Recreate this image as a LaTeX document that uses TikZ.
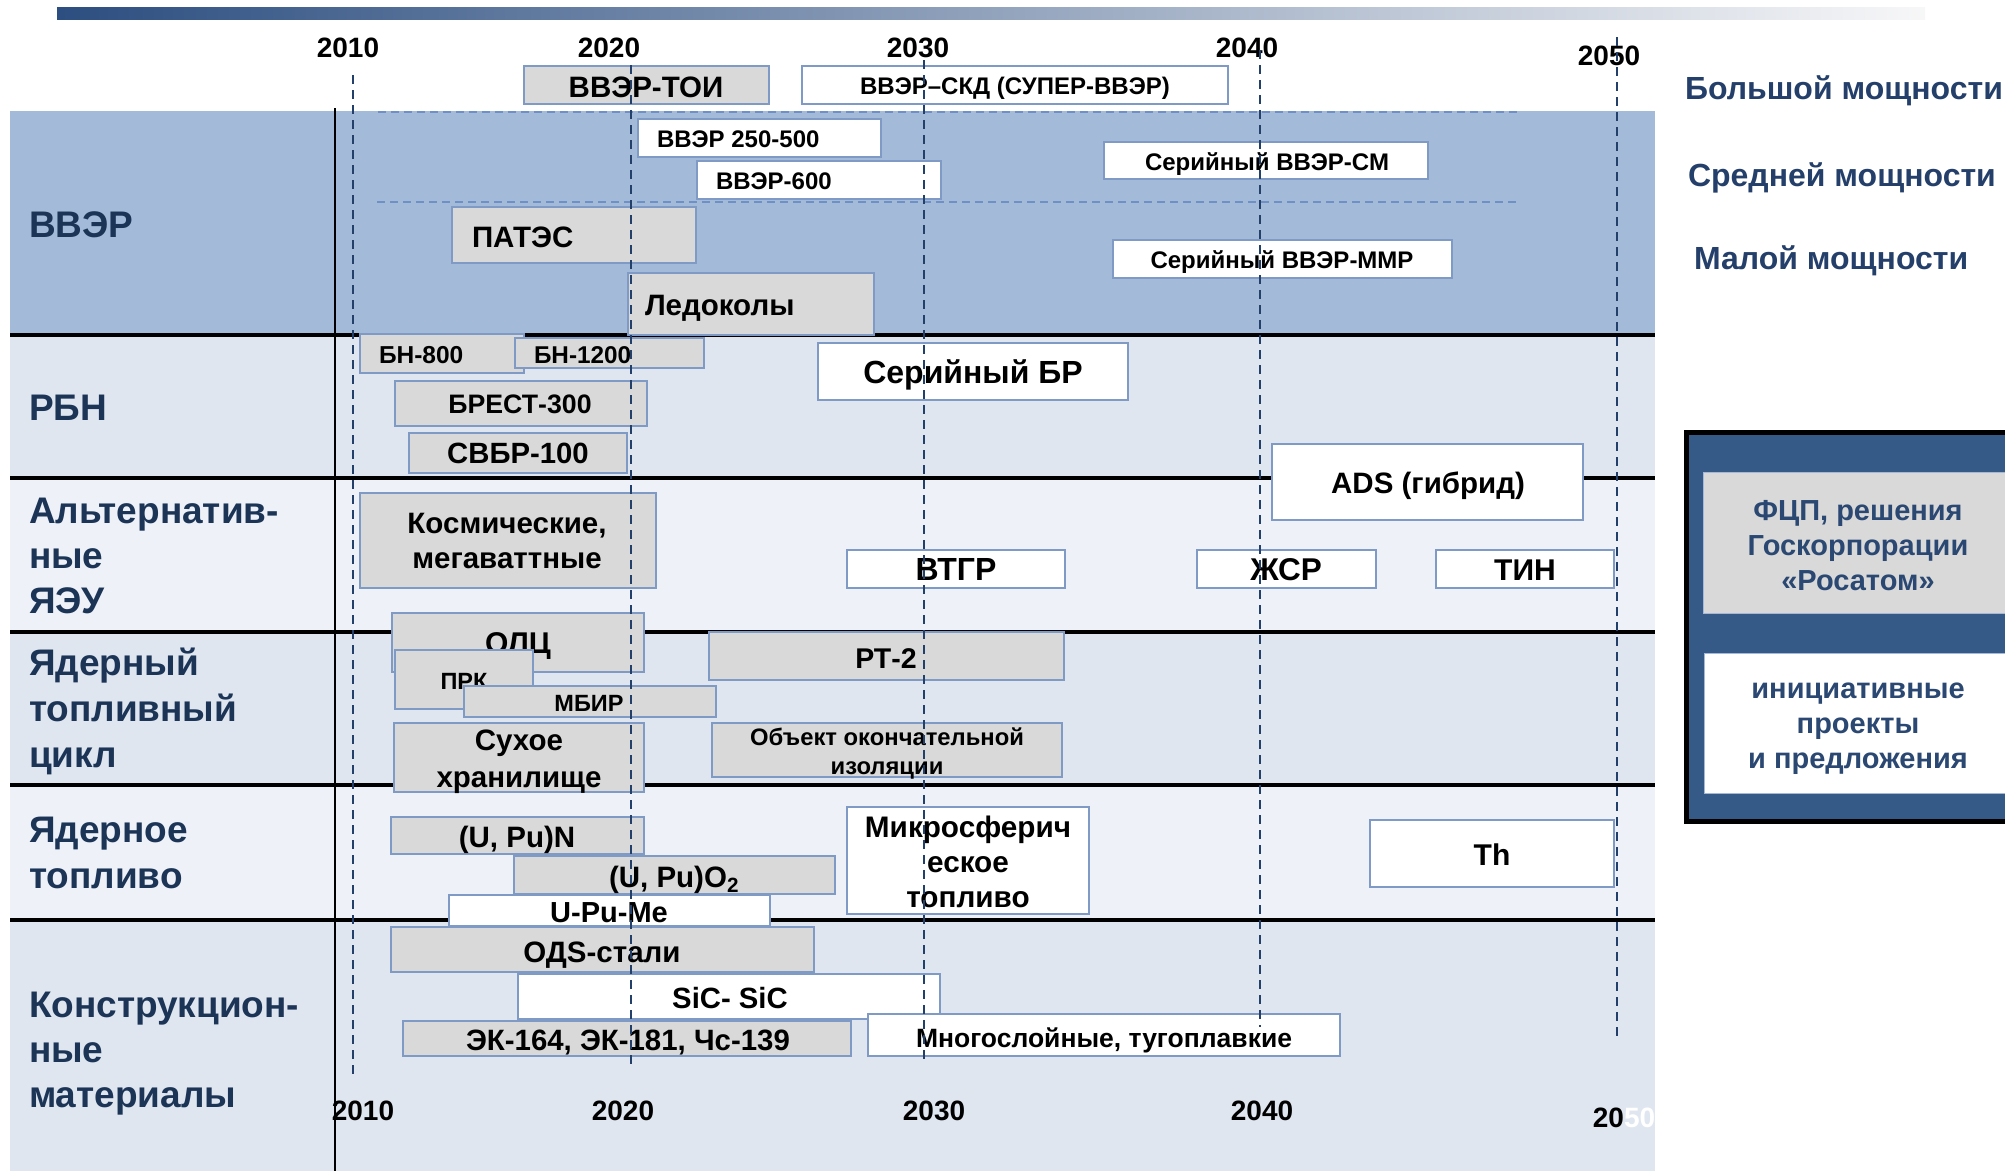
\documentclass[tikz,border=0pt]{standalone}
\usepackage{fontspec}
\setmainfont{Liberation Sans}
\definecolor{vvfill}{HTML}{A3BAD9}
\definecolor{rowA}{HTML}{DFE6F0}
\definecolor{rowB}{HTML}{EEF2F8}
\definecolor{bord}{HTML}{7F9AC4}
\definecolor{gfill}{HTML}{D9D9D9}
\definecolor{navy}{HTML}{1C3557}
\definecolor{rlab}{HTML}{24406A}
\definecolor{yearline}{HTML}{22406A}
\definecolor{vvdash}{HTML}{6F90C6}
\definecolor{legblue}{HTML}{355A88}
\definecolor{legtext}{HTML}{2A4872}
\definecolor{barL}{HTML}{2C4E80}
\definecolor{barM}{HTML}{BEC3CF}
\definecolor{barR}{HTML}{F7F7F8}
\begin{document}
\begin{tikzpicture}[x=1pt,y=-1pt,
  every node/.style={inner sep=0pt, outer sep=0pt},
  fs/.style 2 args={font=\bfseries\fontsize{#1}{#2}\selectfont},
  gbox/.style={draw=bord, fill=gfill, line width=1.5pt, rectangle},
  wbox/.style={draw=bord, fill=white, line width=1.5pt, rectangle},
  yearln/.style={draw=yearline, line width=1.6pt, dash pattern=on 9pt off 6pt},
  vvln/.style={draw=vvdash, line width=2pt, dash pattern=on 8pt off 5pt},
  sepln/.style={draw=black, line width=3.5pt},
  rowlbl/.style={fs={37}{44}, text=navy, anchor=base west},
  yr/.style={fs={28}{34}, anchor=base},
  bt/.style={fs={#1}{#1}, anchor=base},
  btw/.style={fs={#1}{#1}, anchor=base west},
  legt/.style={fs={29}{35}, text=legtext, anchor=base},
]
\useasboundingbox (0,0) rectangle (2005,1171);
\clip (0,0) rectangle (2005,1171);

% top gradient bar
\shade[left color=barL, middle color=barM, right color=barR] (57,7) rectangle (1925,19);

% rows
\fill[vvfill] (10,111) rectangle (1655,335);
\fill[rowA] (10,335) rectangle (1655,478);
\fill[rowB] (10,478) rectangle (1655,632);
\fill[rowA] (10,632) rectangle (1655,785);
\fill[rowB] (10,785) rectangle (1655,920);
\fill[rowA] (10,920) rectangle (1655,1171);

\draw[vvln] (378,112) -- (1519,112);
\draw[vvln] (377,202) -- (1519,202);

\foreach \yy in {335,478,632,785,920} \draw[sepln] (10,\yy) -- (1655,\yy);

% row labels
\node[rowlbl] (lvv) at (29,237) {ВВЭР};
\node[rowlbl] (lrbn) at (29,420) {РБН};
\node[rowlbl] (lalt1) at (29,523) {Альтернатив-};
\node[rowlbl] (lalt2) at (29,568) {ные};
\node[rowlbl] (lalt3) at (29,613) {ЯЭУ};
\node[rowlbl] (ltc1) at (29,675) {Ядерный};
\node[rowlbl] (ltc2) at (29,721) {топливный};
\node[rowlbl] (ltc3) at (29,767) {цикл};
\node[rowlbl] (lfu1) at (29,842) {Ядерное};
\node[rowlbl] (lfu2) at (29,888) {топливо};
\node[rowlbl] (lcm1) at (29,1017) {Конструкцион-};
\node[rowlbl] (lcm2) at (29,1062) {ные};
\node[rowlbl] (lcm3) at (29,1107) {материалы};

% year labels
\node[yr] (t2010) at (348,57) {2010};
\node[yr] (t2020) at (609,57) {2020};
\node[yr] (t2030) at (918,57) {2030};
\node[yr] (t2040) at (1247,57) {2040};
\node[yr] (t2050) at (1609,65) {2050};
\node[yr] (b2010) at (363,1120) {2010};
\node[yr] (b2020) at (623,1120) {2020};
\node[yr] (b2030) at (934,1120) {2030};
\node[yr] (b2040) at (1262,1120) {2040};
\node[yr] (b2050) at (1624,1127) {20\textcolor{white}{50}};

% right power labels
\node[fs={32}{38}, text=rlab, anchor=base west] (big) at (1685,99) {Большой мощности};
\node[fs={32}{38}, text=rlab, anchor=base west] (mid) at (1688,186) {Средней мощности};
\node[fs={32}{38}, text=rlab, anchor=base west] (small) at (1694,269) {Малой мощности};

% vertical black line
\draw[line width=2.5pt] (335,108) -- (335,1171);

% ---- ВВЭР boxes
\node[gbox, minimum width=245pt, minimum height=38pt] (toib) at (646.5,85) {};
\node[bt=29.5] (toi) at (646,97) {ВВЭР-ТОИ};
\node[wbox, minimum width=426pt, minimum height=38pt] (skdb) at (1015,85) {};
\node[bt=24] (skd) at (1015,94) {ВВЭР–СКД (СУПЕР-ВВЭР)};
\node[wbox, minimum width=243pt, minimum height=38pt] (v250b) at (759.5,138) {};
\node[btw=24] (v250) at (657,147) {ВВЭР 250-500};
\node[wbox, minimum width=244pt, minimum height=38pt] (v600b) at (819,180) {};
\node[btw=24] (v600) at (716,189) {ВВЭР-600};
\node[gbox, minimum width=244pt, minimum height=56pt] (patesb) at (574,235) {};
\node[btw=29.5] (pates) at (472,247) {ПАТЭС};
\node[gbox, minimum width=246pt, minimum height=62pt] (ledb) at (751,304) {};
\node[btw=29.5] (led) at (645,315) {Ледоколы};
\node[wbox, minimum width=324pt, minimum height=37pt] (smb) at (1266,160.5) {};
\node[bt=24] (sm) at (1267,170) {Серийный ВВЭР-СМ};
\node[wbox, minimum width=339pt, minimum height=38pt] (mmrb) at (1282.5,259) {};
\node[bt=24] (mmr) at (1282,268) {Серийный ВВЭР-ММР};

% ---- РБН boxes
\node[gbox, minimum width=164pt, minimum height=39pt] (bn8b) at (442,353.5) {};
\node[btw=24.5] (bn8) at (379,363) {БН-800};
\node[gbox, minimum width=189pt, minimum height=30pt] (bn12b) at (609.5,353) {};
\node[btw=24.3] (bn12) at (534,363) {БН-1200};
\node[gbox, minimum width=252pt, minimum height=45pt] (brestb) at (521,403.5) {};
\node[bt=26.7] (brest) at (520,413) {БРЕСТ-300};
\node[gbox, minimum width=218pt, minimum height=40pt] (svbrb) at (518,453) {};
\node[bt=29.3] (svbr) at (518,463) {СВБР-100};
\node[wbox, minimum width=310pt, minimum height=57pt] (sbrb) at (973,371.5) {};
\node[bt=32] (sbr) at (973,383) {Серийный БР};

% ---- Альтернативные
\node[gbox, minimum width=296pt, minimum height=95pt] (kosb) at (508,540.5) {};
\node[bt=29.5] (kos1) at (507,533) {Космические,};
\node[bt=29.5] (kos2) at (507,568) {мегаваттные};
\node[wbox, minimum width=218pt, minimum height=38pt] (vtgrb) at (956,569) {};
\node[bt=32] (vtgr) at (956,580) {ВТГР};
\node[wbox, minimum width=311pt, minimum height=76pt] (adsb) at (1427.5,482) {};
\node[bt=29.5] (ads) at (1428,493) {ADS (гибрид)};
\node[wbox, minimum width=179pt, minimum height=38pt] (zhsrb) at (1286.5,569) {};
\node[bt=31.5] (zhsr) at (1286,580) {ЖСР};
\node[wbox, minimum width=178pt, minimum height=38pt] (tinb) at (1525,569) {};
\node[bt=30] (tin) at (1525,580) {ТИН};

% ---- ЯТЦ
\node[gbox, minimum width=252pt, minimum height=59pt] (olcb) at (518,642.5) {};
\node[bt=30] (olc) at (518,653) {ОЛЦ};
\node[gbox, minimum width=138pt, minimum height=59pt] (prkb) at (464,679.5) {};
\node[bt=23.5] (prk) at (464,689) {ПРК};
\node[gbox, minimum width=252pt, minimum height=31pt] (mbirb) at (590,701.5) {};
\node[bt=23.5] (mbir) at (589,711) {МБИР};
\node[gbox, minimum width=355pt, minimum height=48pt] (rt2b) at (886.5,656) {};
\node[bt=28.5] (rt2) at (886,668) {РТ-2};
\node[gbox, minimum width=250pt, minimum height=69pt] (suhb) at (519,757.5) {};
\node[bt=29.5] (suh1) at (519,750) {Сухое};
\node[bt=29.5] (suh2) at (519,787) {хранилище};
\node[gbox, minimum width=350pt, minimum height=54pt] (objb) at (887,750) {};
\node[bt=23.8] (obj1) at (887,745) {Объект окончательной};
\node[bt=23.8] (obj2) at (887,774) {изоляции};

% ---- Ядерное топливо
\node[gbox, minimum width=253pt, minimum height=37pt] (upnb) at (517.5,835.5) {};
\node[bt=29.5] (upn) at (517,847) {(U, Pu)N};
\node[gbox, minimum width=321pt, minimum height=38pt] (upob) at (674.5,875) {};
\node[bt=29.5] (upo) at (674,887) {(U, Pu)O$_{\mathbf 2}$};
\node[wbox, minimum width=321pt, minimum height=31pt] (upmb) at (609.5,910.5) {};
\node[bt=29] (upm) at (609,922) {U-Pu-Me};
\node[wbox, minimum width=242pt, minimum height=107pt] (micb) at (968,860.5) {};
\node[bt=29.7] (mic1) at (968,837) {Микросферич};
\node[bt=29.7] (mic2) at (968,872) {еское};
\node[bt=29.7] (mic3) at (968,907) {топливо};
\node[wbox, minimum width=244pt, minimum height=67pt] (thb) at (1492,853.5) {};
\node[bt=30] (th) at (1492,865) {Th};

% ---- Конструкционные материалы
\node[gbox, minimum width=423pt, minimum height=45pt] (odsb) at (602.5,949.5) {};
\node[bt=29.5] (ods) at (602,962) {ОДS-стали};
\node[wbox, minimum width=422pt, minimum height=45pt] (sicb) at (729,996.5) {};
\node[bt=29.3] (sic) at (730,1008) {SiC- SiC};
\node[gbox, minimum width=448pt, minimum height=35pt] (ekb) at (627,1038.5) {};
\node[bt=29.4] (ek) at (628,1050) {ЭК-164, ЭК-181, Чс-139};
\node[wbox, minimum width=472pt, minimum height=42pt] (mnb) at (1104,1035) {};
\node[bt=26.5] (mn) at (1104,1047) {Многослойные, тугоплавкие};

% dashed year lines
\draw[yearln] (353,75) -- (353,1075);
\draw[yearln] (631,65) -- (631,1067);
\draw[yearln] (924,60) -- (924,1060);
\draw[yearln] (1260,50) -- (1260,1027);
\draw[yearln] (1617,37) -- (1617,1038);

% legend
\filldraw[fill=legblue, draw=black, line width=5pt] (1686,432) rectangle (2040,821);
\filldraw[fill=gfill, draw=bord!70, line width=1pt] (1703,472) rectangle (2040,613);
\filldraw[fill=white, draw=bord!70, line width=1pt] (1704,653) rectangle (2040,793);
\node[legt] (lg1) at (1858,520) {ФЦП, решения};
\node[legt] (lg2) at (1858,555) {Госкорпорации};
\node[legt] (lg3) at (1858,590) {«Росатом»};
\node[legt] (lg4) at (1858,698) {инициативные};
\node[legt] (lg5) at (1858,733) {проекты};
\node[legt] (lg6) at (1858,768) {и предложения};
\end{tikzpicture}
\end{document}
